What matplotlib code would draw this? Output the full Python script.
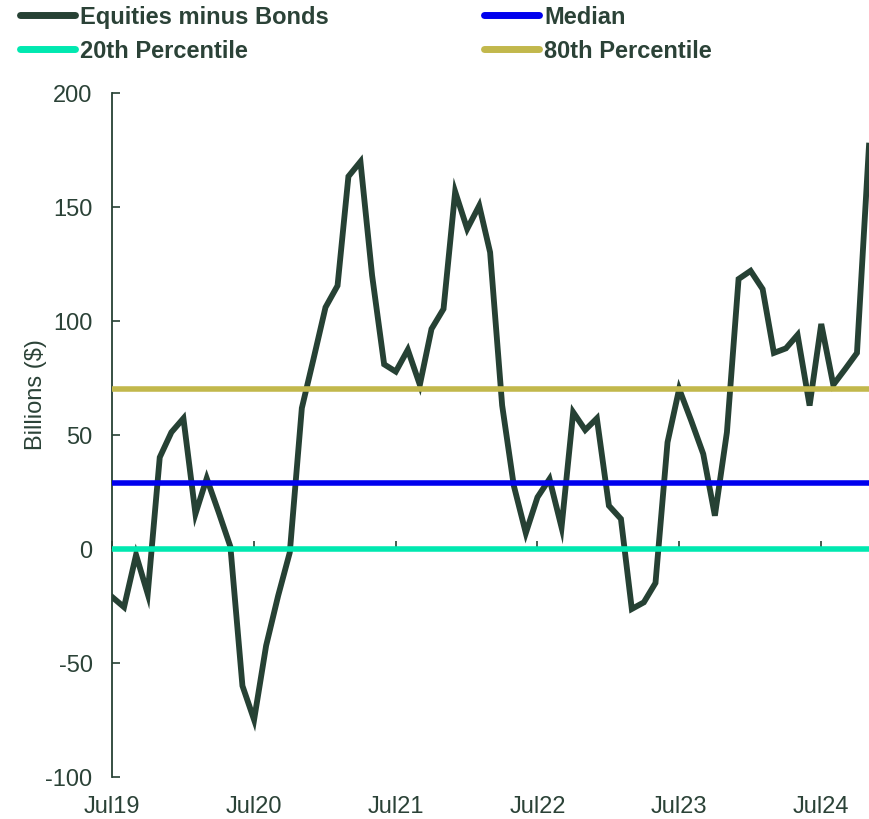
import pandas as pd
import matplotlib
matplotlib.use("Agg")
import matplotlib.pyplot as plt
import matplotlib.dates as mdates

# DATA (monthly, Jul 2019 - Nov 2024), billions of $
start_month = "2019-07-01"
equities_minus_bonds = [
    -21, -25.5, -2.6, -19.7, 40.2, 51.2, 57.3, 15.4, 31, 16, 1, -60,
    -74.9, -42.4, -20.5, -1.5, 61.8, 83.3, 106, 115.5, 163.4, 169.9, 120, 81,
    77.8, 87.4, 72, 96.5, 105.3, 156.7, 140.4, 150.6, 130.1, 63, 27.8, 7,
    22.7, 30.7, 9.5, 60, 52.2, 57.3, 19, 13.2, -26.3, -23.4, -14.9, 46.8,
    70.2, 56.3, 41.7, 14.6, 51.2, 118.4, 122, 114, 86, 88, 93.9, 62.9,
    98.7, 72, 79, 86, 176.9,
]
median_value = 29
pct20_value = 0
pct80_value = 70

series_labels = ["Equities minus Bonds", "Median", "20th Percentile", "80th Percentile"]
y_ticks = [-100, -50, 0, 50, 100, 150, 200]

dates = pd.date_range(start_month, periods=len(equities_minus_bonds), freq="MS")

# STYLE
dark = "#264134"
text_col = "#2b4237"
c_median = "#0000EE"
c_p20 = "#00E8B0"
c_p80 = "#C2B84C"
plt.rcParams['font.family'] = ['Liberation Sans', 'DejaVu Sans']
plt.rcParams['axes.unicode_minus'] = False

fig = plt.figure(figsize=(8.69, 8.2), dpi=100)
ax = fig.add_axes([112 / 869, 42 / 820, 757 / 869, 684 / 820])

l_eq, = ax.plot(dates, equities_minus_bonds, color=dark, lw=4.2, zorder=2,
                solid_joinstyle='miter', label=series_labels[0])
l_med = ax.axhline(median_value, color=c_median, lw=4, zorder=3, label=series_labels[1])
l_p20 = ax.axhline(pct20_value, color=c_p20, lw=4, zorder=3, label=series_labels[2])
l_p80 = ax.axhline(pct80_value, color=c_p80, lw=4, zorder=3, label=series_labels[3])

ax.set_xlim(dates[0], dates[-1])
ax.set_ylim(-100, 200)
ax.set_yticks(y_ticks)

# x labels at the bottom, tick marks on the zero line
ax.xaxis.set_major_locator(mdates.MonthLocator(bymonth=7))
ax.xaxis.set_major_formatter(mdates.DateFormatter("%b%y"))
ax.tick_params(axis='x', length=0, pad=13, labelsize=17, labelcolor=text_col)
ax.tick_params(axis='y', direction='in', length=6, width=1.2, color=dark,
               labelsize=17, labelcolor=text_col, pad=14)

sec = ax.secondary_xaxis(1 / 3)
sec.xaxis.set_major_locator(mdates.MonthLocator(bymonth=7))
sec.tick_params(axis='x', direction='in', length=6, width=1.2, color=dark,
                labelbottom=False)
sec.spines['bottom'].set_visible(False)

for s in ['top', 'right', 'bottom']:
    ax.spines[s].set_visible(False)
ax.spines['left'].set_color(dark)
ax.spines['left'].set_linewidth(1.3)

ax.set_ylabel("Billions ($)", fontsize=17, color=text_col)
ax.yaxis.set_label_coords(-0.0855, 0.561)

# LEGEND
leg = fig.legend(handles=[l_eq, l_p20, l_med, l_p80], loc='upper left',
                 bbox_to_anchor=(20 / 869, 1 - 6 / 820), ncol=2, frameon=False,
                 borderpad=0, borderaxespad=0, handlelength=2.33, handletextpad=0.2,
                 columnspacing=6.6, labelspacing=0.47,
                 prop={'size': 17, 'weight': 'bold'})
for t in leg.get_texts():
    t.set_color(text_col)
for h in leg.legend_handles:
    h.set_linewidth(5)
    h.set_solid_capstyle('round')

fig.savefig("out.png", dpi=100)
